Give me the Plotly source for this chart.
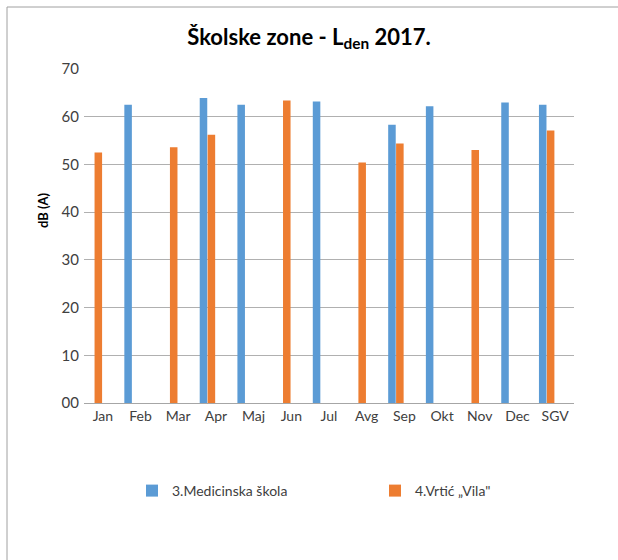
import plotly.graph_objects as go

categories = ["Jan", "Feb", "Mar", "Apr", "Maj", "Jun", "Jul", "Avg", "Sep", "Okt", "Nov", "Dec", "SGV"]
medicinska = [None, 62.5, None, 63.9, 62.5, None, 63.2, None, 58.3, 62.2, None, 63.0, 62.5]
vrtic = [52.5, None, 53.6, 56.2, None, 63.4, None, 50.4, 54.4, None, 53.0, None, 57.1]
tick_vals = [0, 10, 20, 30, 40, 50, 60, 70]
tick_text = ["00", "10", "20", "30", "40", "50", "60", "70"]

FONT = "Lato, Open Sans, sans-serif"
L, R, T, B = 84, 574, 69, 403
PW, PH = R - L, B - T


def px(x):
    return (x - L) / PW


def py(y):
    return (B - y) / PH


fig = go.Figure()
fig.add_trace(go.Bar(
    x=categories, y=medicinska, name="3.Medicinska škola",
    marker=dict(color="#5B9BD5", line=dict(width=0)),
    width=0.2, offset=-0.43, legend="legend",
))
fig.add_trace(go.Bar(
    x=categories, y=vrtic, name="4.Vrtić „Vila\"",
    marker=dict(color="#ED7D31", line=dict(width=0)),
    width=0.2, offset=-0.22, legend="legend2",
))

legend_common = dict(
    orientation="h", xanchor="left", yanchor="middle",
    font=dict(family=FONT, size=14, color="#404040"),
    bgcolor="rgba(0,0,0,0)", itemwidth=30,
)

fig.update_layout(
    width=618, height=560,
    margin=dict(l=L, r=618 - R, t=T, b=560 - B),
    paper_bgcolor="white", plot_bgcolor="white",
    font=dict(family=FONT, color="#595959", size=14),
    title=dict(
        text="<b>Školske zone - L<sub>den</sub> 2017.</b>",
        x=0.5, xanchor="center", y=1 - 37 / 560, yanchor="middle",
        font=dict(family=FONT, size=22, color="black"),
    ),
    showlegend=True,
    legend=dict(x=px(172 - 40), y=py(491), **legend_common),
    legend2=dict(x=px(415 - 40), y=py(491), **legend_common),
    bargap=0.15,
)
fig.update_xaxes(
    showgrid=False, showline=True, linecolor="#A6A6A6", linewidth=1,
    ticks="", tickfont=dict(size=14, color="#404040"),
)
fig.update_yaxes(
    range=[0, 70], tickvals=tick_vals, ticktext=tick_text,
    showgrid=True, gridcolor="#B0B0B0", gridwidth=1,
    zeroline=False, showline=False, ticks="", ticklabelstandoff=4,
    tickfont=dict(size=15, color="#404040"),
)
fig.add_annotation(
    text="<b>dB (A)</b>", xref="paper", yref="paper",
    x=px(33), y=py(210), textangle=-90,
    showarrow=False, font=dict(family=FONT, size=13, color="black"),
)
# outer frame lines
fig.add_shape(type="line", xref="paper", yref="paper",
              x0=px(7), x1=px(618), y0=py(7), y1=py(7),
              line=dict(color="#A0A0A0", width=1))
fig.add_shape(type="line", xref="paper", yref="paper",
              x0=px(7), x1=px(7), y0=py(7), y1=py(560),
              line=dict(color="#A0A0A0", width=1))

fig.write_html(
    "out.html",
    config={"displayModeBar": False},
    post_script="document.body.style.margin='0';document.body.style.overflow='hidden';",
)
